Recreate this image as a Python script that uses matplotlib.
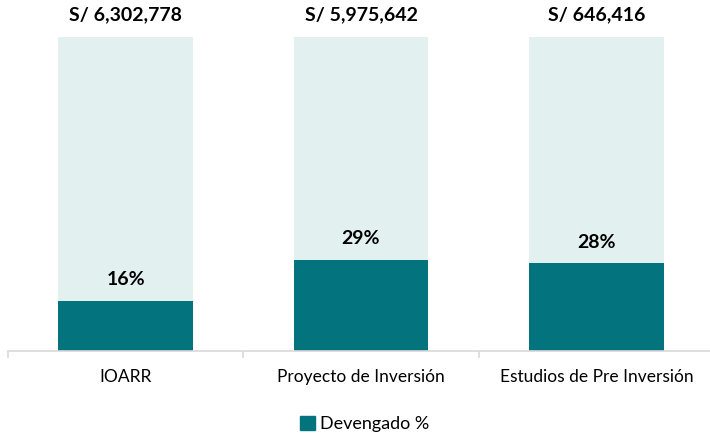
import matplotlib.pyplot as plt
from matplotlib.patches import Patch

plt.rcParams['font.family'] = ['Lato', 'DejaVu Sans']

# datos
categorias = ["IOARR", "Proyecto de Inversión", "Estudios de Pre Inversión"]
montos = ["S/ 6,302,778", "S/ 5,975,642", "S/ 646,416"]
devengado = [0.16, 0.29, 0.28]

oscuro = "#03737E"
claro = "#E3F0F0"

fig = plt.figure(figsize=(7.1, 4.37), dpi=100)
ax = fig.add_axes([8 / 710, 86 / 437, 706 / 710, 314 / 437])

x = range(len(categorias))
ax.bar(x, [1] * 3, width=0.573, color=claro)
ax.bar(x, devengado, width=0.573, color=oscuro)

for i in x:
    ax.annotate(montos[i], (i, 1), xytext=(0, 10), textcoords="offset points",
                ha="center", va="bottom", fontsize=14, fontweight="bold",
                annotation_clip=False)
    ax.annotate(f"{devengado[i]:.0%}", (i, devengado[i]), xytext=(0, 9),
                textcoords="offset points", ha="center", va="bottom",
                fontsize=14, fontweight="bold")

ax.set_xlim(-0.5, 2.5)
ax.set_ylim(0, 1)
ax.set_yticks([])
for s in ["top", "right", "left"]:
    ax.spines[s].set_visible(False)
ax.spines["bottom"].set_color("#D9D9D9")
ax.spines["bottom"].set_linewidth(1.2)

ax.set_xticks([-0.5, 0.5, 1.5, 2.5], minor=False)
ax.set_xticklabels([])
ax.tick_params(axis="x", which="major", length=5, color="#D9D9D9", width=1.2)
ax.set_xticks(list(x), minor=True)
ax.set_xticklabels(categorias, minor=True, fontsize=12.5)
ax.tick_params(axis="x", which="minor", length=0, pad=13)

fig.legend(handles=[Patch(color=oscuro, label="Devengado %")], loc="center",
           bbox_to_anchor=(365 / 710, 1 - 424 / 437), frameon=False,
           fontsize=13, handlelength=0.8, handleheight=0.8, handletextpad=0.3)

plt.savefig("out.png", dpi=100)
